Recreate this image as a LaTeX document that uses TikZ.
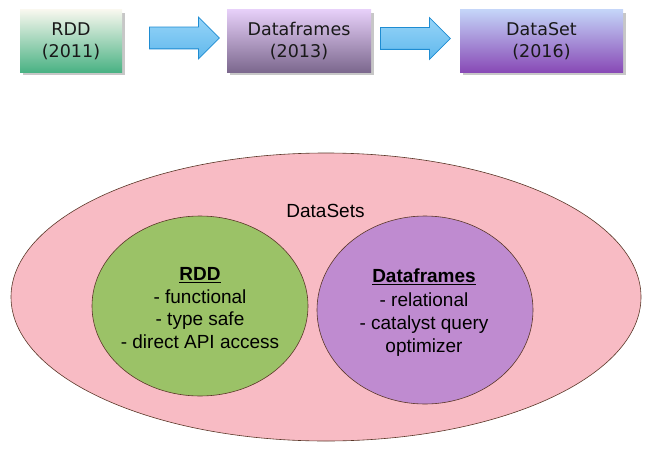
\documentclass[tikz,border=0pt]{standalone}
\usepackage{fontspec}
\usetikzlibrary{shapes.geometric,shapes.arrows,shadows}

\newfontfamily\boxfont{DejaVu Sans}
\newfontfamily\ringfont{Liberation Sans}

\definecolor{rddtop}{RGB}{247,247,238}
\definecolor{rddbot}{RGB}{74,178,132}
\definecolor{dftop}{RGB}{230,207,248}
\definecolor{dfbot}{RGB}{124,104,142}
\definecolor{dstop}{RGB}{196,212,248}
\definecolor{dsbot}{RGB}{136,74,182}
\definecolor{arrowtop}{RGB}{150,212,248}
\definecolor{arrowbot}{RGB}{96,184,236}
\definecolor{arrowline}{RGB}{30,140,210}
\definecolor{setpink}{RGB}{248,187,196}
\definecolor{rddgreen}{RGB}{155,194,103}
\definecolor{dfpurple}{RGB}{191,139,208}
\definecolor{ringline}{RGB}{90,55,40}

\tikzset{
  stage/.style={minimum height=62pt, inner sep=0pt, align=center,
    font=\boxfont\fontsize{17.5}{22}\selectfont, text=black!90,
    drop shadow={shadow xshift=3pt, shadow yshift=-3pt, fill=black!22, opacity=1}},
  push/.style={single arrow, draw=arrowline, line width=0.8pt, anchor=tail,
    top color=arrowtop, bottom color=arrowbot, minimum height=70pt,
    single arrow head extend=10pt, inner xsep=0pt, inner ysep=10.5pt},
  ring/.style={ellipse, draw=ringline, line width=0.6pt, inner sep=0pt},
  ringtext/.style={align=center, font=\ringfont\fontsize{19}{#1}\selectfont}
}

\begin{document}
\begin{tikzpicture}[x=1pt, y=-1pt]
\useasboundingbox (0,0) rectangle (652,452);

% top row
\node[stage, minimum width=102pt, top color=rddtop, bottom color=rddbot] (rdd) at (71,41) {RDD\\(2011)};
\node[push] (arrA) at (149,38) {};
\node[stage, minimum width=144pt, top color=dftop, bottom color=dfbot] (df) at (299,41) {Dataframes\\(2013)};
\node[push] (arrB) at (380,38.5) {};
\node[stage, minimum width=163pt, top color=dstop, bottom color=dsbot] (ds) at (541.5,41) {DataSet\\(2016)};

% DataSets
\node[ring, fill=setpink, minimum width=630pt, minimum height=288pt] (datasets) at (326,297) {};
\node[font=\ringfont\fontsize{19}{22}\selectfont, anchor=base] (dslabel) at (325.5,217) {DataSets};

\node[ring, fill=rddgreen, minimum width=216pt, minimum height=180pt] (rddset) at (200,306) {};
\node[ring, fill=dfpurple, minimum width=216pt, minimum height=188pt] (dfset) at (425,310) {};

\node[ringtext=22.4] (rddtxt) at (200,308) {\underline{\textbf{RDD}}\\- functional\\- type safe\\- direct API access};
\node[ringtext=23.3] (dftxt) at (424,313) {\underline{\textbf{Dataframes}}\\- relational\\- catalyst query\\optimizer};
\end{tikzpicture}
\end{document}
